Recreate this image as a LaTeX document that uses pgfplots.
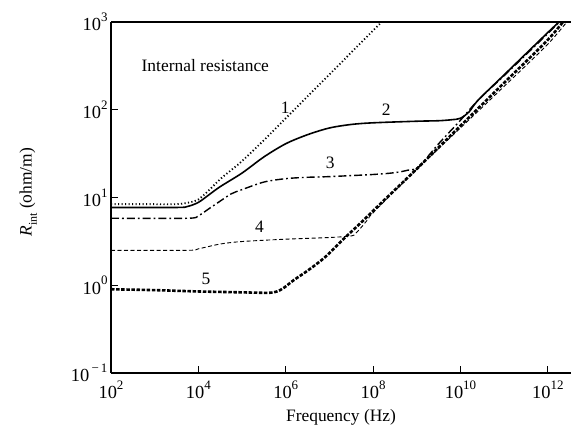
\documentclass[border=0pt]{standalone}
\usepackage{fontspec}
\setmainfont{Liberation Serif}
\usepackage{pgfplots}
\pgfplotsset{compat=1.18}
\usetikzlibrary{calc}
% tick label: 10 with a raised exponent, in the text font
\newcommand{\tp}[1]{10\raisebox{0.5em}{\fontsize{13}{13}\selectfont #1}}
\newcommand{\lbl}{\fontsize{17.5}{20}\selectfont}

\begin{document}
\begin{tikzpicture}
\begin{axis}[
  xmode=log, ymode=log,
  scale only axis, width=460bp, height=351bp,
  xmin=1e2, xmax=3.388e12,
  ymin=0.1, ymax=1000,
  axis x line=box, axis y line=left,
  y axis line style={-},
  axis line style={line width=1.5bp},
  tick align=inside, major tick length=7bp,
  tick style={black, line width=1bp},
  xtick pos=left, ytick pos=left,
  xminorticks=false, yminorticks=false,
  xtick={1e2,1e4,1e6,1e8,1e10,1e12},
  xticklabels={\tp{2},\tp{4},\tp{6},\tp{8},\tp{10},\tp{12}},
  ytick={0.1,1,10,100,1000},
  yticklabels={\tp{\,−\,1},\tp{0},\tp{1},\tp{2},\tp{3}},
  ticklabel style={font=\fontsize{18.5}{18.5}\selectfont},
  xticklabel style={yshift=-4bp},
  xlabel={Frequency (Hz)},
  ylabel={\textit{R}\raisebox{-0.3em}{\fontsize{12}{12}\selectfont int} (ohm/m)},
  xlabel style={font=\lbl, at={(axis description cs:0.5,-0.125)}, anchor=center},
  ylabel style={font=\lbl, at={(axis description cs:-0.18,0.515)}, anchor=center},
  every axis plot/.append style={black, smooth, tension=0.5},
]
\coordinate (ll) at (rel axis cs:0,0);
\coordinate (ur) at (rel axis cs:1,1);

% 1: dotted
\addplot[line width=1.8bp, dash pattern=on 1.2bp off 2.3bp] coordinates {
 (1e2,8.4) (1e3,8.4) (3162,8.4) (6310,8.8) (1e4,9.5) (17783,12.2) (31623,16.2)
 (56234,20.5) (1e5,26) (316228,45) (1e6,80) (3.162e6,142) (1e7,252)
 (3.162e7,450) (1e8,800) (1.995e8,1130)};
% 2: solid
\addplot[line width=1.6bp] coordinates {
 (1e2,7.7) (3162,7.7) (5623,7.9) (1e4,8.8) (17783,10.8) (31623,13.3) (1e5,19)
 (316228,29) (1e6,41) (3.162e6,52) (1e7,62) (3.162e7,68) (1e8,71) (1e9,74)
 (3.162e9,75) (6.310e9,77) (1e10,80) (1.585e10,95) (2.512e10,128) (1e11,250)
 (3.162e11,436) (1e12,760) (1.995e12,1050)};
% 3: dash-dot
\addplot[line width=1.4bp, dash pattern=on 8bp off 3bp on 1.8bp off 3bp] coordinates {
 (1e2,5.8) (5623,5.8) (1e4,6.2) (17783,7.5) (31623,9.1) (56234,11) (1e5,12.3)
 (316228,15) (1e6,16.4) (3.162e6,17) (1e7,17.3) (1e8,18.3) (3.162e8,19.2)
 (6.310e8,20.5) (1.096e9,22.3) (3.162e9,41) (1e10,76) (2.512e10,128)
 (1e11,245) (3.162e11,425) (1e12,740) (2.239e12,1100)};
% 4: thin dashed
\addplot[line width=0.9bp, dash pattern=on 4bp off 2.5bp] coordinates {
 (1e2,2.5) (5623,2.5) (1e4,2.6) (31623,2.95) (1e5,3.15) (1e6,3.35) (1e7,3.5)
 (3.162e7,3.65) (3.981e7,3.9) (5.623e7,4.7) (7.943e7,5.8) (1e8,6.7)
 (1e9,21) (1e10,62) (1e11,185) (1e12,560) (3.162e12,1100)};
% 5: thick dashed
\addplot[line width=2.6bp, dash pattern=on 3.5bp off 1.6bp] coordinates {
 (1e2,0.9) (1e3,0.88) (1e4,0.85) (1e5,0.83) (398107,0.82) (630957,0.85)
 (891251,0.93) (1.549e6,1.15) (3.311e6,1.49) (7.943e6,2.09) (1.995e7,3.28)
 (5.129e7,5.1) (1.778e8,9.3) (1e9,21.2) (1e10,65.6) (1e11,203) (1e12,627)
 (3.162e12,1250)};

\node[font=\lbl] at (axis cs:9.8e5,105) {1};
\node[font=\lbl] at (axis cs:2e8,99) {2};
\node[font=\lbl] at (axis cs:1.05e7,25) {3};
\node[font=\lbl] at (axis cs:2.5e5,4.6) {4};
\node[font=\lbl] at (axis cs:1.5e4,1.19) {5};
\node[font=\lbl, anchor=west] at (rel axis cs:0.059,0.877) {Internal resistance};
\end{axis}
\pgfresetboundingbox
\path[use as bounding box] ($(ll)+(-111bp,-59bp)$) rectangle ($(ur)+(0bp,22bp)$);
\end{tikzpicture}
\end{document}
